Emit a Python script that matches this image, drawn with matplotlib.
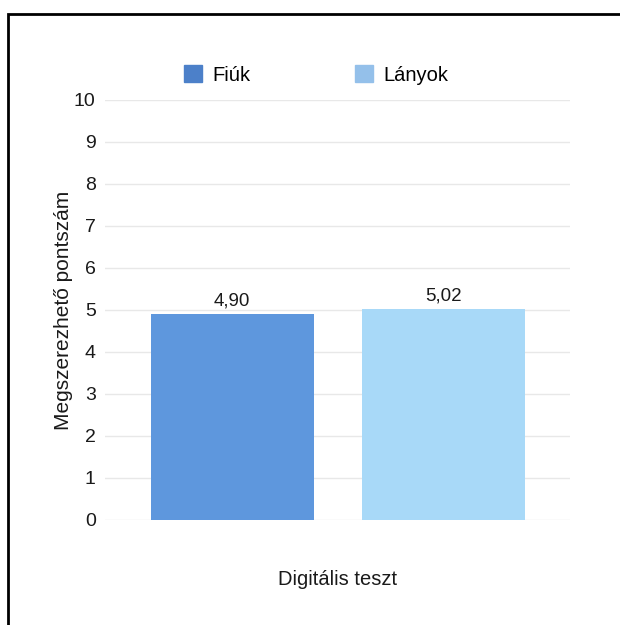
import matplotlib.pyplot as plt
from matplotlib.patches import Rectangle, Patch

plt.rcParams['font.family'] = ['Liberation Sans', 'DejaVu Sans']

categories = ['Digitális teszt']
groups = ['Fiúk', 'Lányok']
values = [4.90, 5.02]
labels = ['4,90', '5,02']
bar_colors = ['#5e97dd', '#a8d9f8']
legend_colors = ['#4c80c9', '#94c0ea']

fig = plt.figure(figsize=(6.2, 6.25), dpi=100)
ax = fig.add_axes([0.17, 0.168, 0.75, 0.672])

pos = [0.0, 1.0]
bars = ax.bar(pos, values, width=0.77, color=bar_colors, edgecolor='none', zorder=3)
for b, lab in zip(bars, labels):
    ax.text(b.get_x() + b.get_width() / 2, b.get_height() + 0.12, lab,
            ha='center', va='bottom', fontsize=13.5, color='#1a1a1a')

ax.set_ylim(0, 10)
ax.set_xlim(-0.6, 1.6)
ax.set_yticks(range(0, 11))
ax.yaxis.grid(True, color='#e8e8e8', linewidth=1, zorder=0)
ax.set_xticks([])
ax.tick_params(axis='y', length=0, pad=7, labelsize=14, labelcolor='#1a1a1a')
for s in ax.spines.values():
    s.set_visible(False)

ax.set_ylabel('Megszerezhető pontszám', fontsize=15, color='#1a1a1a', labelpad=1)
ax.set_xlabel(categories[0], fontsize=14.5, color='#1a1a1a', labelpad=36)

handles = [Patch(color=c) for c in legend_colors]
fig.legend(handles, groups, loc='center', bbox_to_anchor=(0.51, 0.88), ncol=2,
           frameon=False, fontsize=14.5, handlelength=0.9, handleheight=0.9,
           columnspacing=5.2, handletextpad=0.5)

# frame around the chart, clipped at right and bottom like the reference
fig.patches.append(Rectangle((8 / 620, -0.05), 1.2, 1 - 14 / 625 + 0.05,
                             transform=fig.transFigure, fill=False,
                             edgecolor='black', linewidth=2))

fig.savefig('out.png', dpi=100)
